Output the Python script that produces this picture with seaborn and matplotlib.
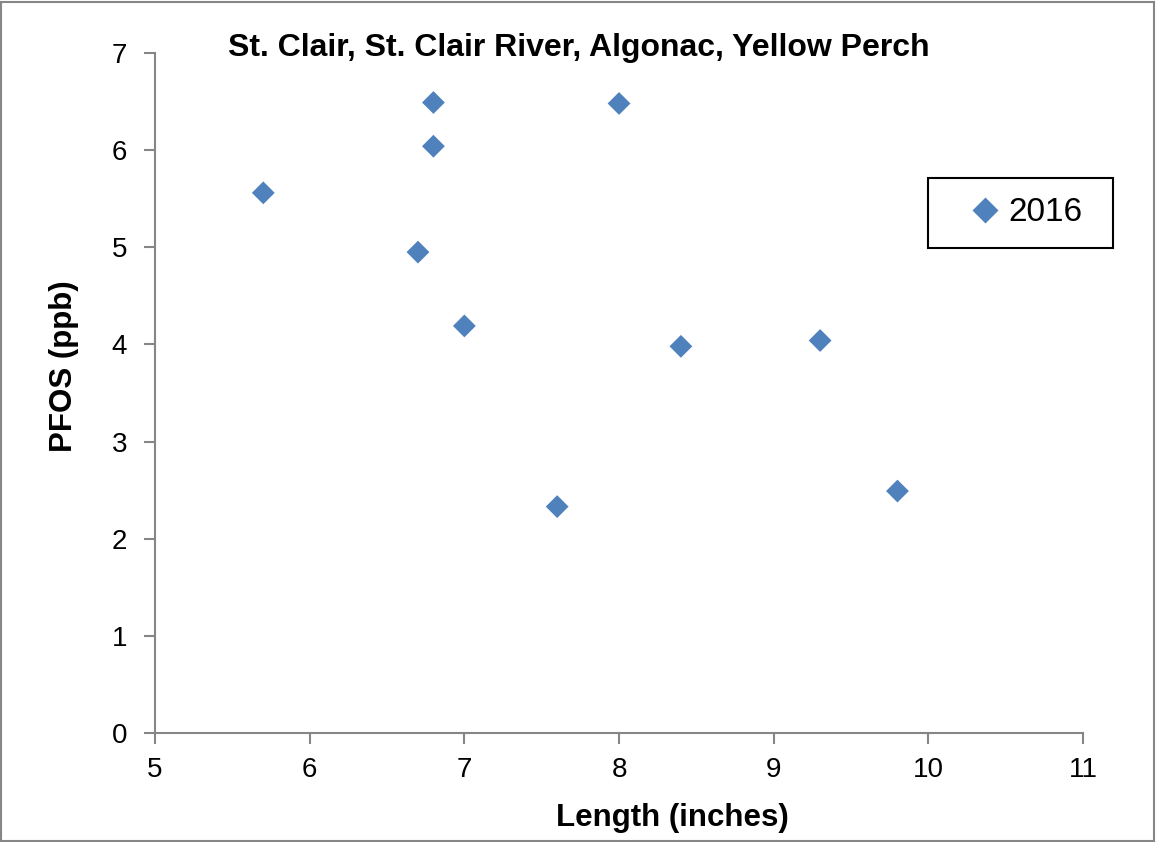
import matplotlib
matplotlib.use("Agg")
import matplotlib.pyplot as plt
import seaborn as sns
import pandas as pd
from matplotlib.patches import Rectangle

length = [5.7, 6.8, 6.8, 6.7, 7.0, 7.6, 8.0, 8.4, 9.3, 9.8]
pfos = [5.56, 6.49, 6.04, 4.95, 4.19, 2.33, 6.48, 3.98, 4.04, 2.49]
year = ["2016"] * len(length)

df = pd.DataFrame({"Length": length, "PFOS": pfos, "Year": year})

sns.set_style("white")
plt.rcParams["font.family"] = ["Liberation Sans", "DejaVu Sans"]
plt.rcParams["text.color"] = "black"
plt.rcParams["axes.labelcolor"] = "black"

fig = plt.figure(figsize=(11.56, 8.42), dpi=100)
ax = fig.add_axes([0.1341, 0.1295, 0.8028, 0.8076])

sns.scatterplot(data=df, x="Length", y="PFOS", hue="Year", palette=["#4F81BD"],
                marker="D", s=135, edgecolor="none", ax=ax)

ax.set_xlim(5, 11)
ax.set_ylim(0, 7)
ax.set_xticks([5, 6, 7, 8, 9, 10, 11])
ax.set_yticks([0, 1, 2, 3, 4, 5, 6, 7])
ax.tick_params(axis="both", direction="out", length=8, width=1.5, color="#868686",
               labelsize=20, labelcolor="black", bottom=True, left=True)
ax.tick_params(axis="x", pad=9)
ax.tick_params(axis="y", pad=12)
for side in ["top", "right"]:
    ax.spines[side].set_visible(False)
for side in ["left", "bottom"]:
    ax.spines[side].set_color("#868686")
    ax.spines[side].set_linewidth(1.5)

ax.set_xlabel("Length (inches)", fontsize=22.5, fontweight="bold")
ax.set_ylabel("PFOS (ppb)", fontsize=22.5, fontweight="bold")
ax.xaxis.label.set_va("center")
ax.yaxis.label.set_va("center")
ax.xaxis.set_label_coords(0.558, -0.125)
ax.yaxis.set_label_coords(-0.098, 0.54)
ax.text(0.457, 1.008, "St. Clair, St. Clair River, Algonac, Yellow Perch",
        transform=ax.transAxes, ha="center", va="center", fontsize=23, fontweight="bold")

leg = ax.legend(loc="center left", bbox_to_anchor=(0.8696, 0.7647), frameon=False,
                fontsize=24, handletextpad=0.0, handlelength=1.4, markerscale=1.15,
                borderpad=0, borderaxespad=0)
ax.add_patch(Rectangle((0.833, 0.7132), 0.1994, 0.103, transform=ax.transAxes,
                       fill=False, edgecolor="black", linewidth=1.5, clip_on=False))

fig.patches.append(Rectangle((0.001, 0.001), 0.997, 0.997, transform=fig.transFigure,
                             fill=False, edgecolor="#868686", linewidth=1.5))

fig.savefig("out.png", dpi=100)
